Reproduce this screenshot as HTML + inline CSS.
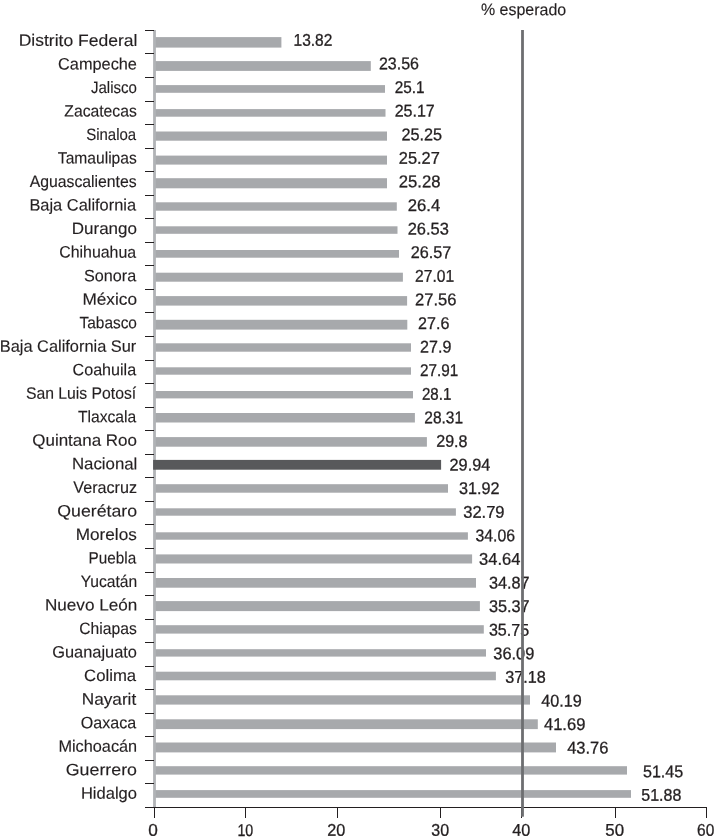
<!DOCTYPE html>
<html><head><meta charset="utf-8"><title>chart</title>
<style>
html,body{margin:0;padding:0;background:#fff;}
svg{display:block;will-change:transform;}
text{font-family:"Liberation Sans",sans-serif;fill:#231f20;stroke:#231f20;stroke-width:0.15px;}
text.v{stroke-width:0.3px;}
</style></head><body>
<svg width="716" height="838" viewBox="0 0 716 838">
<rect width="716" height="838" fill="#fff"/>
<rect x="155" y="37.1" width="126.4" height="10.5" fill="#a7a9ac"/>
<rect x="155" y="61.1" width="215.8" height="9.8" fill="#a7a9ac"/>
<rect x="155" y="85.1" width="230.0" height="7.7" fill="#a7a9ac"/>
<rect x="155" y="109.1" width="230.5" height="7.6" fill="#a7a9ac"/>
<rect x="155" y="131.5" width="232.0" height="9.2" fill="#a7a9ac"/>
<rect x="155" y="155.6" width="232.0" height="9.0" fill="#a7a9ac"/>
<rect x="155" y="178.2" width="232.0" height="10.1" fill="#a7a9ac"/>
<rect x="155" y="202.3" width="241.8" height="8.4" fill="#a7a9ac"/>
<rect x="155" y="226.3" width="242.5" height="7.5" fill="#a7a9ac"/>
<rect x="155" y="250.0" width="244.0" height="7.7" fill="#a7a9ac"/>
<rect x="155" y="272.7" width="247.9" height="9.0" fill="#a7a9ac"/>
<rect x="155" y="296.1" width="252.1" height="9.5" fill="#a7a9ac"/>
<rect x="155" y="319.8" width="252.3" height="9.8" fill="#a7a9ac"/>
<rect x="155" y="343.3" width="256.0" height="8.4" fill="#a7a9ac"/>
<rect x="155" y="367.3" width="256.0" height="7.4" fill="#a7a9ac"/>
<rect x="155" y="391.0" width="258.0" height="7.4" fill="#a7a9ac"/>
<rect x="155" y="413.0" width="259.9" height="9.5" fill="#a7a9ac"/>
<rect x="155" y="437.1" width="271.9" height="9.6" fill="#a7a9ac"/>
<rect x="155" y="484.2" width="293.0" height="8.5" fill="#a7a9ac"/>
<rect x="155" y="508.3" width="300.9" height="7.4" fill="#a7a9ac"/>
<rect x="155" y="532.3" width="312.9" height="7.4" fill="#a7a9ac"/>
<rect x="155" y="554.4" width="317.1" height="9.1" fill="#a7a9ac"/>
<rect x="155" y="578.0" width="321.0" height="9.7" fill="#a7a9ac"/>
<rect x="155" y="601.1" width="324.9" height="10.0" fill="#a7a9ac"/>
<rect x="155" y="625.2" width="328.8" height="8.4" fill="#a7a9ac"/>
<rect x="155" y="649.2" width="331.0" height="7.4" fill="#a7a9ac"/>
<rect x="155" y="671.7" width="340.9" height="8.6" fill="#a7a9ac"/>
<rect x="155" y="695.3" width="375.0" height="9.3" fill="#a7a9ac"/>
<rect x="155" y="719.3" width="382.8" height="9.8" fill="#a7a9ac"/>
<rect x="155" y="742.5" width="401.0" height="9.9" fill="#a7a9ac"/>
<rect x="155" y="766.2" width="472.0" height="8.4" fill="#a7a9ac"/>
<rect x="155" y="790.1" width="476.0" height="7.7" fill="#a7a9ac"/>
<rect x="153.1" y="30" width="2.8" height="777" fill="#b1b3b6"/>
<rect x="153.1" y="459.9" width="288.0" height="9.8" fill="#58595b"/>
<rect x="145" y="30" width="9" height="1" fill="#231f20"/>
<rect x="145" y="53" width="9" height="1" fill="#231f20"/>
<rect x="145" y="77" width="9" height="1" fill="#231f20"/>
<rect x="145" y="101" width="9" height="1" fill="#231f20"/>
<rect x="145" y="124" width="9" height="1" fill="#231f20"/>
<rect x="145" y="148" width="9" height="1" fill="#231f20"/>
<rect x="145" y="171" width="9" height="1" fill="#231f20"/>
<rect x="145" y="195" width="9" height="1" fill="#231f20"/>
<rect x="145" y="218" width="9" height="1" fill="#231f20"/>
<rect x="145" y="242" width="9" height="1" fill="#231f20"/>
<rect x="145" y="265" width="9" height="1" fill="#231f20"/>
<rect x="145" y="289" width="9" height="1" fill="#231f20"/>
<rect x="145" y="312" width="9" height="1" fill="#231f20"/>
<rect x="145" y="336" width="9" height="1" fill="#231f20"/>
<rect x="145" y="360" width="9" height="1" fill="#231f20"/>
<rect x="145" y="383" width="9" height="1" fill="#231f20"/>
<rect x="145" y="407" width="9" height="1" fill="#231f20"/>
<rect x="145" y="430" width="9" height="1" fill="#231f20"/>
<rect x="145" y="454" width="9" height="1" fill="#231f20"/>
<rect x="145" y="477" width="9" height="1" fill="#231f20"/>
<rect x="145" y="501" width="9" height="1" fill="#231f20"/>
<rect x="145" y="524" width="9" height="1" fill="#231f20"/>
<rect x="145" y="548" width="9" height="1" fill="#231f20"/>
<rect x="145" y="572" width="9" height="1" fill="#231f20"/>
<rect x="145" y="595" width="9" height="1" fill="#231f20"/>
<rect x="145" y="619" width="9" height="1" fill="#231f20"/>
<rect x="145" y="642" width="9" height="1" fill="#231f20"/>
<rect x="145" y="666" width="9" height="1" fill="#231f20"/>
<rect x="145" y="689" width="9" height="1" fill="#231f20"/>
<rect x="145" y="713" width="9" height="1" fill="#231f20"/>
<rect x="145" y="736" width="9" height="1" fill="#231f20"/>
<rect x="145" y="760" width="9" height="1" fill="#231f20"/>
<rect x="145" y="783" width="9" height="1" fill="#231f20"/>
<rect x="145" y="807" width="562" height="1" fill="#231f20"/>
<rect x="154" y="807" width="1" height="11" fill="#231f20"/>
<rect x="245" y="807" width="1" height="11" fill="#231f20"/>
<rect x="337" y="807" width="1" height="11" fill="#231f20"/>
<rect x="440" y="807" width="1" height="11" fill="#231f20"/>
<rect x="521" y="807" width="1" height="11" fill="#231f20"/>
<rect x="615" y="807" width="1" height="11" fill="#231f20"/>
<rect x="706" y="807" width="1" height="11" fill="#231f20"/>
<text transform="translate(18.73,45.86) rotate(0.03) scale(1.0613,1)" font-size="16.5">Distrito Federal</text>
<text transform="translate(58.03,69.39) rotate(0.03) scale(0.9891,1)" font-size="16.5">Campeche</text>
<text transform="translate(90.97,92.91) rotate(0.03) scale(0.9110,1)" font-size="16.5">Jalisco</text>
<text transform="translate(64.31,116.44) rotate(0.03) scale(0.9522,1)" font-size="16.5">Zacatecas</text>
<text transform="translate(86.23,139.97) rotate(0.03) scale(0.9079,1)" font-size="16.5">Sinaloa</text>
<text transform="translate(57.86,163.50) rotate(0.03) scale(0.9458,1)" font-size="16.5">Tamaulipas</text>
<text transform="translate(29.70,187.02) rotate(0.03) scale(0.9570,1)" font-size="16.5">Aguascalientes</text>
<text transform="translate(29.42,210.55) rotate(0.03) scale(0.9951,1)" font-size="16.5">Baja California</text>
<text transform="translate(71.77,234.08) rotate(0.03) scale(1.0304,1)" font-size="16.5">Durango</text>
<text transform="translate(59.15,257.60) rotate(0.03) scale(0.9653,1)" font-size="16.5">Chihuahua</text>
<text transform="translate(83.99,281.13) rotate(0.03) scale(0.9812,1)" font-size="16.5">Sonora</text>
<text transform="translate(82.45,304.66) rotate(0.03) scale(1.0436,1)" font-size="16.5">México</text>
<text transform="translate(79.56,328.18) rotate(0.03) scale(0.9334,1)" font-size="16.5">Tabasco</text>
<text transform="translate(-0.18,351.71) rotate(0.03) scale(0.9927,1)" font-size="16.5">Baja California Sur</text>
<text transform="translate(72.54,375.24) rotate(0.03) scale(0.9773,1)" font-size="16.5">Coahuila</text>
<text transform="translate(25.91,398.77) rotate(0.03) scale(0.9547,1)" font-size="16.5">San Luis Potosí</text>
<text transform="translate(77.96,422.29) rotate(0.03) scale(0.9480,1)" font-size="16.5">Tlaxcala</text>
<text transform="translate(32.30,445.82) rotate(0.03) scale(1.0281,1)" font-size="16.5">Quintana Roo</text>
<text transform="translate(71.99,469.35) rotate(0.03) scale(1.0190,1)" font-size="16.5">Nacional</text>
<text transform="translate(73.30,492.87) rotate(0.03) scale(0.9792,1)" font-size="16.5">Veracruz</text>
<text transform="translate(57.27,516.40) rotate(0.03) scale(1.0735,1)" font-size="16.5">Querétaro</text>
<text transform="translate(75.76,539.93) rotate(0.03) scale(1.0408,1)" font-size="16.5">Morelos</text>
<text transform="translate(88.61,563.45) rotate(0.03) scale(0.9264,1)" font-size="16.5">Puebla</text>
<text transform="translate(80.66,586.98) rotate(0.03) scale(0.9478,1)" font-size="16.5">Yucatán</text>
<text transform="translate(44.96,610.51) rotate(0.03) scale(1.0372,1)" font-size="16.5">Nuevo León</text>
<text transform="translate(79.27,634.04) rotate(0.03) scale(0.9502,1)" font-size="16.5">Chiapas</text>
<text transform="translate(52.23,657.56) rotate(0.03) scale(0.9931,1)" font-size="16.5">Guanajuato</text>
<text transform="translate(84.12,681.09) rotate(0.03) scale(1.0143,1)" font-size="16.5">Colima</text>
<text transform="translate(81.76,704.62) rotate(0.03) scale(1.0425,1)" font-size="16.5">Nayarit</text>
<text transform="translate(80.85,728.14) rotate(0.03) scale(0.9734,1)" font-size="16.5">Oaxaca</text>
<text transform="translate(58.43,751.67) rotate(0.03) scale(0.9874,1)" font-size="16.5">Michoacán</text>
<text transform="translate(65.77,775.20) rotate(0.03) scale(1.0792,1)" font-size="16.5">Guerrero</text>
<text transform="translate(80.91,798.72) rotate(0.03) scale(1.0019,1)" font-size="16.5">Hidalgo</text>
<text class="v" transform="translate(293.53,45.75) rotate(0.03) scale(0.9120,1)" font-size="17">13.82</text>
<text class="v" transform="translate(378.95,69.34) rotate(0.03) scale(0.9402,1)" font-size="17">23.56</text>
<text class="v" transform="translate(394.68,92.94) rotate(0.03) scale(0.9019,1)" font-size="17">25.1</text>
<text class="v" transform="translate(394.65,116.53) rotate(0.03) scale(0.9451,1)" font-size="17">25.17</text>
<text class="v" transform="translate(401.54,140.13) rotate(0.03) scale(0.9548,1)" font-size="17">25.25</text>
<text class="v" transform="translate(398.83,163.72) rotate(0.03) scale(0.9645,1)" font-size="17">25.27</text>
<text class="v" transform="translate(398.82,187.32) rotate(0.03) scale(0.9792,1)" font-size="17">25.28</text>
<text class="v" transform="translate(407.72,210.91) rotate(0.03) scale(0.9822,1)" font-size="17">26.4</text>
<text class="v" transform="translate(407.73,234.51) rotate(0.03) scale(0.9670,1)" font-size="17">26.53</text>
<text class="v" transform="translate(410.84,258.11) rotate(0.03) scale(0.9524,1)" font-size="17">26.57</text>
<text class="v" transform="translate(415.07,281.70) rotate(0.03) scale(0.9183,1)" font-size="17">27.01</text>
<text class="v" transform="translate(415.03,305.29) rotate(0.03) scale(0.9719,1)" font-size="17">27.56</text>
<text class="v" transform="translate(418.05,328.89) rotate(0.03) scale(0.9462,1)" font-size="17">27.6</text>
<text class="v" transform="translate(420.05,352.49) rotate(0.03) scale(0.9462,1)" font-size="17">27.9</text>
<text class="v" transform="translate(420.08,376.08) rotate(0.03) scale(0.8988,1)" font-size="17">27.91</text>
<text class="v" transform="translate(421.99,399.67) rotate(0.03) scale(0.8860,1)" font-size="17">28.1</text>
<text class="v" transform="translate(424.27,423.27) rotate(0.03) scale(0.9110,1)" font-size="17">28.31</text>
<text class="v" transform="translate(436.25,446.87) rotate(0.03) scale(0.9462,1)" font-size="17">29.8</text>
<text class="v" transform="translate(449.54,470.46) rotate(0.03) scale(0.9583,1)" font-size="17">29.94</text>
<text class="v" transform="translate(458.99,494.05) rotate(0.03) scale(0.9535,1)" font-size="17">31.92</text>
<text class="v" transform="translate(463.18,517.65) rotate(0.03) scale(0.9729,1)" font-size="17">32.79</text>
<text class="v" transform="translate(475.51,541.25) rotate(0.03) scale(0.9317,1)" font-size="17">34.06</text>
<text class="v" transform="translate(479.08,564.84) rotate(0.03) scale(0.9739,1)" font-size="17">34.64</text>
<text class="v" transform="translate(488.89,588.43) rotate(0.03) scale(0.9583,1)" font-size="17">34.87</text>
<text class="v" transform="translate(488.89,612.03) rotate(0.03) scale(0.9583,1)" font-size="17">35.37</text>
<text class="v" transform="translate(488.90,635.62) rotate(0.03) scale(0.9462,1)" font-size="17">35.75</text>
<text class="v" transform="translate(493.29,659.22) rotate(0.03) scale(0.9632,1)" font-size="17">36.09</text>
<text class="v" transform="translate(505.19,682.81) rotate(0.03) scale(0.9535,1)" font-size="17">37.18</text>
<text class="v" transform="translate(541.25,706.41) rotate(0.03) scale(0.9522,1)" font-size="17">40.19</text>
<text class="v" transform="translate(543.94,730.00) rotate(0.03) scale(0.9739,1)" font-size="17">41.69</text>
<text class="v" transform="translate(567.14,753.60) rotate(0.03) scale(0.9691,1)" font-size="17">43.76</text>
<text class="v" transform="translate(643.00,777.19) rotate(0.03) scale(0.9462,1)" font-size="17">51.45</text>
<text class="v" transform="translate(641.30,800.79) rotate(0.03) scale(0.9414,1)" font-size="17">51.88</text>
<text class="v" transform="translate(148.36,835.80) rotate(0.03) scale(1.0118,1)" font-size="17">0</text>
<text class="v" transform="translate(237.41,835.80) rotate(0.03) scale(0.8380,1)" font-size="17">10</text>
<text class="v" transform="translate(327.24,835.80) rotate(0.03) scale(0.9554,1)" font-size="17">20</text>
<text class="v" transform="translate(431.30,835.80) rotate(0.03) scale(0.9413,1)" font-size="17">30</text>
<text class="v" transform="translate(512.35,835.80) rotate(0.03) scale(0.9550,1)" font-size="17">40</text>
<text class="v" transform="translate(605.37,835.80) rotate(0.03) scale(0.9914,1)" font-size="17">50</text>
<text class="v" transform="translate(697.07,835.80) rotate(0.03) scale(0.9102,1)" font-size="17">60</text>
<text transform="translate(481.00,15.10) rotate(0.03) scale(0.9681,1)" font-size="16.5">% esperado</text>
<rect x="521.1" y="30" width="2.8" height="786.7" fill="#6d6e71"/>
</svg>
</body></html>
